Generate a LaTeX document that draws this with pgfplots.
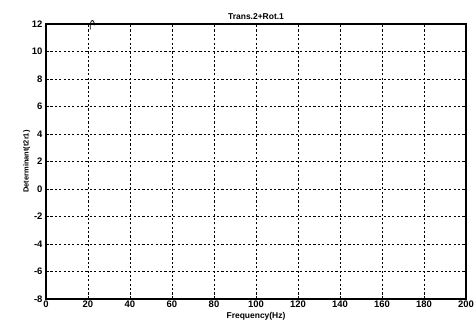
\documentclass[border=0pt]{standalone}
\usepackage{fontspec}
\setmainfont{Liberation Sans}
\usepackage{pgfplots}
\pgfplotsset{compat=1.18}
\begin{document}
\begin{tikzpicture}
\begin{axis}[
  name=ax,
  scale only axis,
  width=420bp, height=275bp,
  xmin=0, xmax=200, ymin=-8, ymax=12,
  xtick={0,20,...,200},
  ytick={-8,-6,...,12},
  grid=major,
  major grid style={black, line width=0.7pt, dash pattern=on 2.2pt off 2.2pt},
  axis line style={black, line width=1.1pt},
  tick style={black, line width=0.6pt},
  major tick length=3pt,
  tick align=inside,
  /pgf/number format/assume math mode=true,
  ticklabel style={font=\fontsize{9.5}{11}\selectfont\bfseries},
  title={Trans.2+Rot.1},
  title style={font=\fontsize{8.5}{10}\selectfont\bfseries, yshift=-5bp},
  xlabel={Frequency(Hz)},
  xlabel style={font=\fontsize{8.5}{10}\selectfont\bfseries, yshift=2bp},
  ylabel={Determinant(t2r1)},
  ylabel style={font=\fontsize{7.5}{9}\selectfont\bfseries, yshift=-5bp},
  xticklabel style={yshift=2bp},
  clip=false,
]
% the response only enters the visible range in a narrow band near 21-23 Hz
\addplot[black, line width=0.8pt, smooth] coordinates {
  (21.1,11.6) (21.1,11.95) (21.6,12.22) (22.3,12.25) (22.9,12.1) (23.2,11.9)
};
\end{axis}
\pgfresetboundingbox
\path ([shift={(-46bp,-31bp)}]ax.south west) rectangle ([shift={(10bp,24bp)}]ax.north east);
\end{tikzpicture}
\end{document}
